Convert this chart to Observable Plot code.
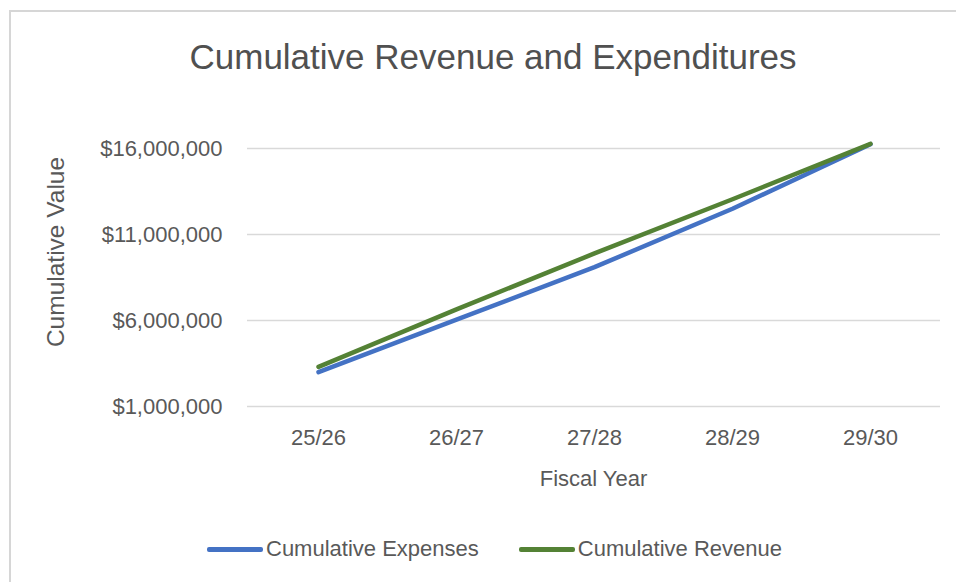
<!DOCTYPE html>
<html>
<head>
<meta charset="utf-8">
<script src="https://cdn.jsdelivr.net/npm/d3@7"></script>
<script src="https://cdn.jsdelivr.net/npm/@observablehq/plot@0.6"></script>
<style>
  html, body { margin: 0; padding: 0; background: #fff; }
  #wrap { position: relative; width: 956px; height: 582px; background: #fff; overflow: hidden;
          font-family: "Liberation Sans", Arial, sans-serif; color: #595959; }
  #frame { position: absolute; left: 9px; top: 10px; right: -10px; bottom: -10px;
           border-top: 2px solid #d6d6d6; border-left: 2px solid #d6d6d6; }
  #title { position: absolute; left: 10px; width: 966px; top: 39px; font-size: 35px; line-height: 35px;
           text-align: center; white-space: nowrap; color: #505050; }
  #ylabel { position: absolute; left: 56px; top: 252px; font-size: 24.5px; line-height: 24px; white-space: nowrap;
            transform: translate(-50%, -50%) rotate(-90deg); }
  #xlabel { position: absolute; left: 247px; width: 693px; top: 468px; font-size: 22px; line-height: 22px;
            text-align: center; white-space: nowrap; }
  #chart { position: absolute; left: 0; top: 100px; }
  #legend { position: absolute; left: 207px; top: 538px; display: flex; align-items: center; gap: 40px;
            font-size: 22px; line-height: 22px; white-space: nowrap; }
  .item { display: flex; align-items: center; gap: 3px; }
  .swatch { width: 56px; height: 5px; border-radius: 2px; }
</style>
</head>
<body>
<div id="wrap">
  <div id="frame"></div>
  <div id="title">Cumulative Revenue and Expenditures</div>
  <div id="ylabel">Cumulative Value</div>
  <div id="chart"></div>
  <div id="xlabel">Fiscal Year</div>
  <div id="legend"></div>
</div>
<script>
const years = ["25/26", "26/27", "27/28", "28/29", "29/30"];
const expenses = [3.0e6, 6.05e6, 9.1e6, 12.5e6, 16.25e6];
const revenue = [3.3e6, 6.65e6, 9.9e6, 13.05e6, 16.27e6];
const seriesNames = ["Cumulative Expenses", "Cumulative Revenue"];
const seriesColors = ["#4472c4", "#548235"];
const yTicks = [1e6, 6e6, 11e6, 16e6];

const data = [];
years.forEach((y, i) => {
  data.push({year: y, value: expenses[i], series: seriesNames[0]});
});
years.forEach((y, i) => {
  data.push({year: y, value: revenue[i], series: seriesNames[1]});
});

const fmt = d3.format(",");
const chart = Plot.plot({
  width: 956,
  height: 400,
  marginTop: 48,
  marginBottom: 94,
  marginLeft: 247,
  marginRight: 16,
  style: {fontFamily: "Liberation Sans, Arial, sans-serif", color: "#595959", background: "transparent", overflow: "visible"},
  x: {type: "point", domain: years, padding: 0.5, label: null},
  y: {domain: [1e6, 16e6], label: null},
  color: {domain: seriesNames, range: seriesColors},
  marks: [
    Plot.gridY(yTicks, {stroke: "#d9d9d9", strokeOpacity: 1, strokeWidth: 1.5}),
    Plot.axisY(yTicks, {tickSize: 0, tickPadding: 25, fontSize: 22, label: null, tickFormat: d => "$" + fmt(d)}),
    Plot.axisX({tickSize: 0, tickPadding: 23, fontSize: 22, label: null}),
    Plot.line(data, {x: "year", y: "value", z: "series", stroke: "series", strokeWidth: 4.5, strokeLinecap: "round", strokeLinejoin: "round"})
  ]
});
document.getElementById("chart").appendChild(chart);

const legend = document.getElementById("legend");
seriesNames.forEach((name, i) => {
  const item = document.createElement("div");
  item.className = "item";
  const sw = document.createElement("div");
  sw.className = "swatch";
  sw.style.background = seriesColors[i];
  const label = document.createElement("span");
  label.textContent = name;
  item.appendChild(sw);
  item.appendChild(label);
  legend.appendChild(item);
});
</script>
</body>
</html>
